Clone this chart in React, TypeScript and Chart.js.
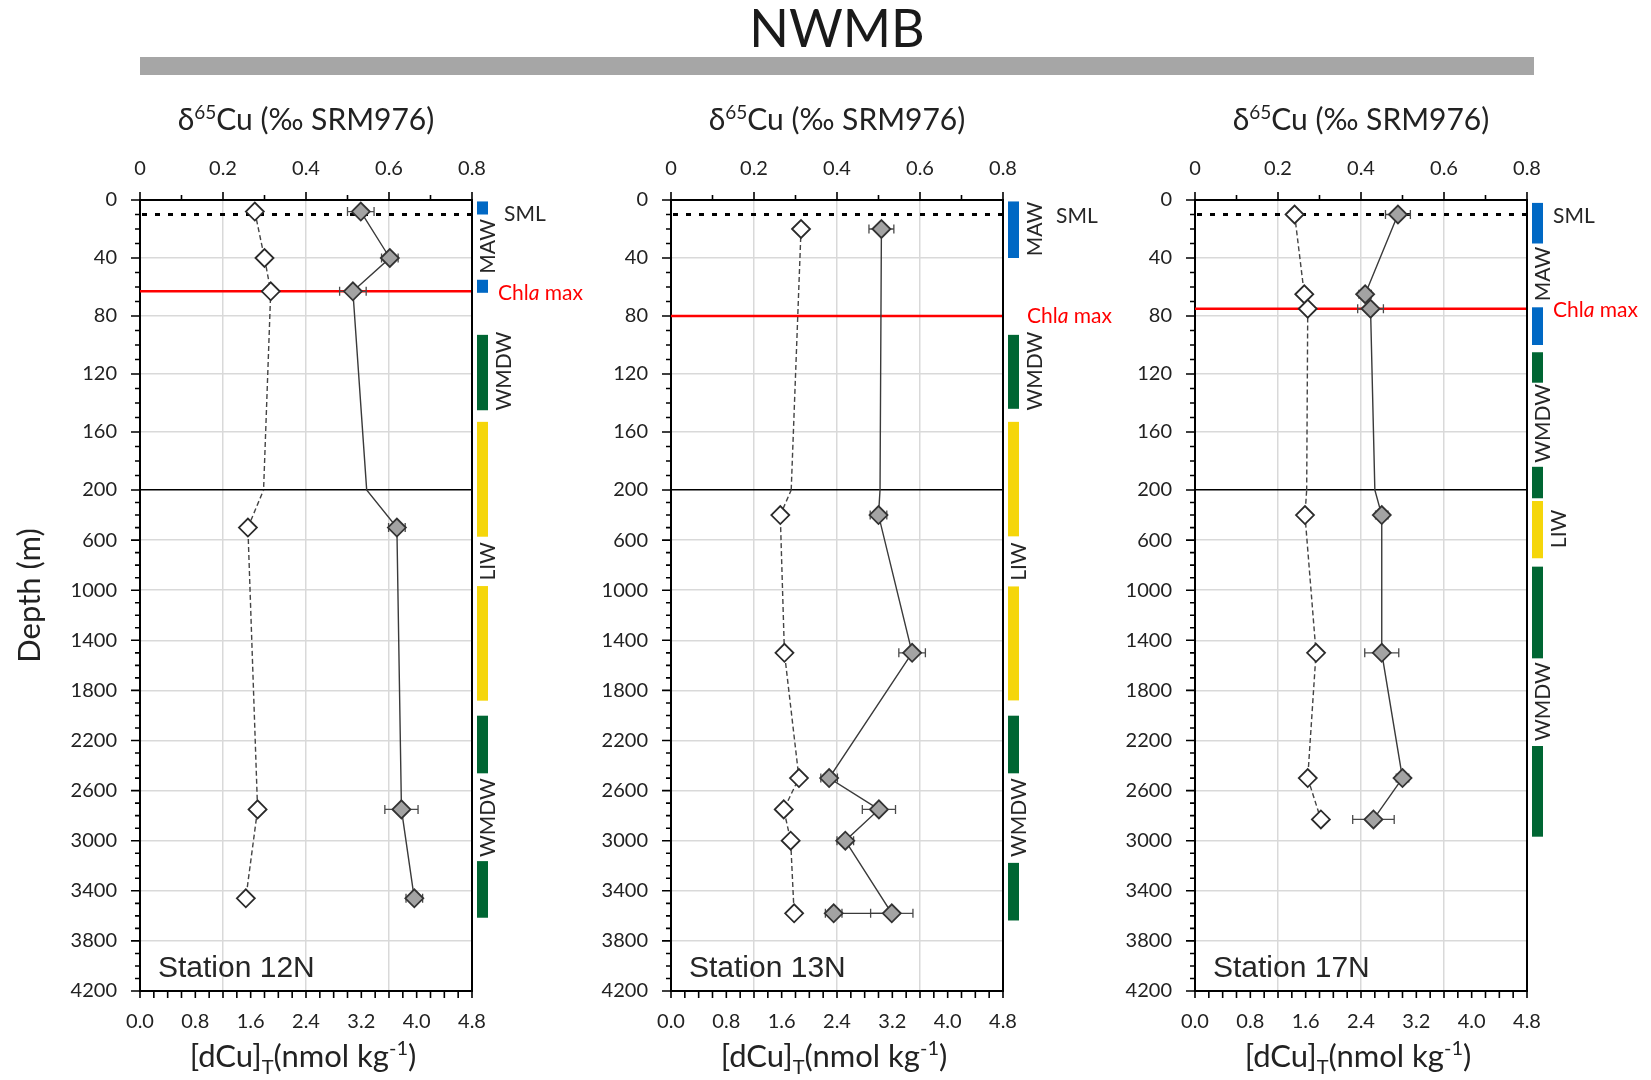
import React, { useEffect, useRef } from 'react';
import { Chart, registerables } from 'chart.js';

Chart.register(...registerables);
Chart.defaults.font.family = 'Lato';
Chart.defaults.color = '#222222';

// ---------------- Data ----------------
// Station 12N
const ST12_DEPTH = [8, 40, 63, 500, 2750, 3460];
const ST12_D65CU = [0.532, 0.602, 0.513, 0.619, 0.63, 0.661];
const ST12_D65CU_ERR = [0.032, 0.02, 0.032, 0.02, 0.04, 0.02];
const ST12_DCU = [1.66, 1.8, 1.89, 1.56, 1.7, 1.53];
const ST12_CHLA = 63;

// Station 13N
const ST13_D65_DEPTH = [20, 400, 1500, 2500, 2750, 3000, 3580, 3580];
const ST13_D65CU = [0.507, 0.5, 0.581, 0.381, 0.501, 0.42, 0.532, 0.392];
const ST13_D65CU_ERR = [0.03, 0.02, 0.032, 0.02, 0.04, 0.02, 0.051, 0.02];
const ST13_DCU_DEPTH = [20, 400, 1500, 2500, 2750, 3000, 3580];
const ST13_DCU = [1.88, 1.58, 1.64, 1.85, 1.63, 1.73, 1.78];
const ST13_CHLA = 80;

// Station 17N
const ST17_DEPTH = [10, 65, 75, 400, 1500, 2500, 2830];
const ST17_D65CU = [0.489, 0.41, 0.423, 0.45, 0.45, 0.5, 0.43];
const ST17_D65CU_ERR = [0.03, 0.015, 0.031, 0.015, 0.041, 0.015, 0.05];
const ST17_DCU = [1.44, 1.58, 1.63, 1.59, 1.75, 1.63, 1.82];
const ST17_CHLA = 75;

// Surface mixed layer depth (dotted line)
const SML_DEPTH = 10;

// Water-mass bars [from depth, to depth, water mass]
const WM_12N = [
  [1, 10, 'MAW'], [55, 64, 'MAW'], [93, 145, 'WMDW'], [153, 573, 'LIW'],
  [967, 1882, 'LIW'], [2002, 2462, 'WMDW'], [3163, 3615, 'WMDW'],
];
const WM_13N = [
  [1, 40, 'MAW'], [93, 144, 'WMDW'], [153, 570, 'LIW'], [970, 1880, 'LIW'],
  [2002, 2462, 'WMDW'], [3177, 3637, 'WMDW'],
];
const WM_17N = [
  [2, 30, 'MAW'], [74, 100, 'MAW'], [105, 126, 'WMDW'], [184, 266, 'WMDW'],
  [288, 745, 'LIW'], [812, 1544, 'WMDW'], [2244, 2968, 'WMDW'],
];
// Water-mass labels [text, centre depth, column]
const WM_LABELS_12N = [['MAW', 32, 'in'], ['WMDW', 118, 'out'], ['LIW', 770, 'in'], ['WMDW', 2815, 'in']];
const WM_LABELS_13N = [['MAW', 20, 'out'], ['WMDW', 118, 'out'], ['LIW', 772, 'in'], ['WMDW', 2815, 'in']];
const WM_LABELS_17N = [['MAW', 51, 'in'], ['WMDW', 154, 'in'], ['LIW', 511, 'out'], ['WMDW', 1890, 'in']];

// Tick values
const D65_TICKS = [0, 0.2, 0.4, 0.6, 0.8];
const DCU_TICKS = [0, 0.8, 1.6, 2.4, 3.2, 4.0, 4.8];
const DEPTH_TICKS_UPPER = [0, 40, 80, 120, 160, 200];
const DEPTH_TICKS_LOWER = [200, 600, 1000, 1400, 1800, 2200, 2600, 3000, 3400, 3800, 4200];

// ---------------- Layout / style ----------------
const WM_COLORS: Record<string, string> = { MAW: '#0068c4', WMDW: '#006633', LIW: '#f5d60a' };
const CANVAS_TOP = 85;
const LEFT_W = 140;
const PLOT_W = 332;
const RIGHT_W = 118;
const TOP_H = 115;
const BOT_H = 89;
const TOP_PX = 290;
const BOT_PX = 501;
const CANVAS_W = LEFT_W + PLOT_W + RIGHT_W;
const CANVAS_H = TOP_H + TOP_PX + BOT_PX + BOT_H;
const GRID = '#d9d9d9';
const TEXT = '#222222';

const PANELS = [
  {
    name: '12N', plotLeft: 140, showDepthTitle: true,
    d65Depth: ST12_DEPTH, d65: ST12_D65CU, d65Err: ST12_D65CU_ERR,
    dcuDepth: ST12_DEPTH, dcu: ST12_DCU, chla: ST12_CHLA, chlaLabelDepth: 64,
    wm: WM_12N, wmLabels: WM_LABELS_12N, smlX: 32, smlDepth: 10, chlaX: 26,
  },
  {
    name: '13N', plotLeft: 671, showDepthTitle: false,
    d65Depth: ST13_D65_DEPTH, d65: ST13_D65CU, d65Err: ST13_D65CU_ERR,
    dcuDepth: ST13_DCU_DEPTH, dcu: ST13_DCU, chla: ST13_CHLA, chlaLabelDepth: 80,
    wm: WM_13N, wmLabels: WM_LABELS_13N, smlX: 53, smlDepth: 11, chlaX: 24,
  },
  {
    name: '17N', plotLeft: 1195, showDepthTitle: false,
    d65Depth: ST17_DEPTH, d65: ST17_D65CU, d65Err: ST17_D65CU_ERR,
    dcuDepth: ST17_DEPTH, dcu: ST17_DCU, chla: ST17_CHLA, chlaLabelDepth: 76,
    wm: WM_17N, wmLabels: WM_LABELS_17N, smlX: 26, smlDepth: 11, chlaX: 26,
  },
];

type Part = { t: string; size: number; dy?: number; italic?: boolean };

function drawRich(ctx: CanvasRenderingContext2D, parts: Part[], x: number, y: number, align: string, color: string) {
  const f = (p: Part) => `${p.italic ? 'italic ' : ''}${p.size}px Lato`;
  let total = 0;
  const widths = parts.map((p) => {
    ctx.font = f(p);
    const w = ctx.measureText(p.t).width;
    total += w;
    return w;
  });
  let cx = align === 'center' ? x - total / 2 : x;
  ctx.fillStyle = color;
  ctx.textAlign = 'left';
  parts.forEach((p, i) => {
    ctx.font = f(p);
    ctx.fillText(p.t, cx, y + (p.dy || 0));
    cx += widths[i];
  });
}

function dpx(chart: any, d: number) {
  return d <= 200 ? chart.scales.yTop.getPixelForValue(d) : chart.scales.yBot.getPixelForValue(d);
}

function makePlugin(p: any) {
  return {
    id: 'decor' + p.name,
    beforeDatasetsDraw(chart: any) {
      const ctx = chart.ctx as CanvasRenderingContext2D;
      const a = chart.chartArea;
      const xTop = chart.scales.xTop;
      ctx.save();
      // SML dotted line
      const ys = dpx(chart, SML_DEPTH);
      ctx.strokeStyle = '#000';
      ctx.lineWidth = 3;
      ctx.setLineDash([5, 8]);
      ctx.beginPath();
      ctx.moveTo(a.left + 2, ys);
      ctx.lineTo(a.right, ys);
      ctx.stroke();
      ctx.setLineDash([]);
      // Chl a max line
      const yc = dpx(chart, p.chla);
      ctx.strokeStyle = '#ff0000';
      ctx.lineWidth = 2.5;
      ctx.beginPath();
      ctx.moveTo(a.left, yc);
      ctx.lineTo(a.right, yc);
      ctx.stroke();
      // error bars
      ctx.strokeStyle = '#4a4a4a';
      ctx.lineWidth = 1.3;
      p.d65.forEach((v: number, i: number) => {
        const e = p.d65Err[i];
        if (!e) return;
        const y = dpx(chart, p.d65Depth[i]);
        const x1 = xTop.getPixelForValue(v - e);
        const x2 = xTop.getPixelForValue(v + e);
        ctx.beginPath();
        ctx.moveTo(x1, y); ctx.lineTo(x2, y);
        ctx.moveTo(x1, y - 4.5); ctx.lineTo(x1, y + 4.5);
        ctx.moveTo(x2, y - 4.5); ctx.lineTo(x2, y + 4.5);
        ctx.stroke();
      });
      ctx.restore();
    },
    afterDraw(chart: any) {
      const ctx = chart.ctx as CanvasRenderingContext2D;
      const a = chart.chartArea;
      const { xTop, xBot, yTop, yBot } = chart.scales;
      ctx.save();
      // right frame
      ctx.strokeStyle = '#000';
      ctx.lineWidth = 2;
      ctx.beginPath();
      ctx.moveTo(a.right, a.top - 1);
      ctx.lineTo(a.right, a.bottom + 1);
      ctx.stroke();
      // tick marks
      ctx.lineWidth = 1.6;
      ctx.beginPath();
      for (let d = 0; d <= 200; d += 10) {
        const y = yTop.getPixelForValue(d);
        const len = d % 40 === 0 ? 9 : 5;
        ctx.moveTo(a.left - len, y); ctx.lineTo(a.left, y);
      }
      for (let d = 300; d <= 4200; d += 100) {
        const y = yBot.getPixelForValue(d);
        const len = (d - 200) % 400 === 0 ? 9 : 5;
        ctx.moveTo(a.left - len, y); ctx.lineTo(a.left, y);
      }
      for (let k = 0; k <= 8; k++) {
        const x = xTop.getPixelForValue(k / 10);
        const len = k % 2 === 0 ? 8 : 5;
        ctx.moveTo(x, a.top - len); ctx.lineTo(x, a.top);
      }
      for (let k = 0; k <= 24; k++) {
        const x = xBot.getPixelForValue(k * 0.2);
        ctx.moveTo(x, a.bottom); ctx.lineTo(x, a.bottom + 7);
      }
      ctx.stroke();
      // water mass bars
      p.wm.forEach((w: any) => {
        const y1 = dpx(chart, w[0]);
        const y2 = dpx(chart, w[1]);
        ctx.fillStyle = WM_COLORS[w[2]];
        ctx.fillRect(a.right + 5, y1, 11, y2 - y1);
      });
      // water mass labels (rotated)
      ctx.fillStyle = '#262626';
      ctx.font = '21px Lato';
      ctx.textAlign = 'center';
      ctx.textBaseline = 'middle';
      p.wmLabels.forEach((l: any) => {
        const x = a.right + (l[2] === 'in' ? 16 : 32);
        const y = dpx(chart, l[1]);
        ctx.save();
        ctx.translate(x, y);
        ctx.rotate(-Math.PI / 2);
        ctx.fillText(l[0], 0, 0);
        ctx.restore();
      });
      // SML label
      ctx.textAlign = 'left';
      ctx.textBaseline = 'middle';
      ctx.font = '21px Lato';
      ctx.fillStyle = '#262626';
      ctx.fillText('SML', a.right + p.smlX, dpx(chart, p.smlDepth));
      // Chl a max label
      drawRich(ctx, [
        { t: 'Chl', size: 21 }, { t: 'a', size: 21, italic: true }, { t: ' max', size: 21 },
      ], a.right + p.chlaX, dpx(chart, p.chlaLabelDepth), 'left', '#ff0000');
      // axis titles
      ctx.textBaseline = 'alphabetic';
      const cx = (a.left + a.right) / 2;
      drawRich(ctx, [
        { t: 'δ', size: 30 }, { t: '65', size: 19, dy: -11 }, { t: 'Cu (‰ SRM976)', size: 30 },
      ], cx, a.top - 70, 'center', TEXT);
      drawRich(ctx, [
        { t: '[dCu]', size: 31 }, { t: 'T', size: 20, dy: 7 }, { t: '(nmol kg', size: 31 },
        { t: '-1', size: 20, dy: -12 }, { t: ')', size: 31 },
      ], cx - 3, a.bottom + 76, 'center', TEXT);
      if (p.showDepthTitle) {
        ctx.save();
        ctx.translate(a.left - 110, (a.top + a.bottom) / 2);
        ctx.rotate(-Math.PI / 2);
        ctx.font = '31px Lato';
        ctx.textAlign = 'center';
        ctx.textBaseline = 'middle';
        ctx.fillStyle = TEXT;
        ctx.fillText('Depth (m)', 0, 0);
        ctx.restore();
      }
      // station label
      ctx.font = '30px "Liberation Sans"';
      ctx.textAlign = 'left';
      ctx.textBaseline = 'alphabetic';
      ctx.fillStyle = '#262626';
      ctx.fillText('Station ' + p.name, a.left + 18, a.bottom - 14);
      ctx.restore();
    },
  };
}

function buildConfig(p: any) {
  const gray = p.d65.map((v: number, i: number) => ({ x: v, y: p.d65Depth[i] }));
  const white = p.dcu.map((v: number, i: number) => ({ x: v, y: p.dcuDepth[i] }));
  // datasets are clipped to the area of their own (stacked) depth scale
  const clipTop = { left: 15, right: 15, top: 15, bottom: 0 };
  const clipBot = { left: 15, right: 15, top: 0, bottom: 15 };
  const grayStyle = {
    showLine: true, borderColor: '#3a3a3a', borderWidth: 1.4,
    pointStyle: 'rectRot', pointRadius: 9, pointBackgroundColor: '#a3a3a3',
    pointBorderColor: '#333333', pointBorderWidth: 1.8, xAxisID: 'xTop',
  };
  const whiteStyle = {
    showLine: true, borderColor: '#444444', borderWidth: 1.4, borderDash: [5, 3],
    pointStyle: 'rectRot', pointRadius: 9, pointBackgroundColor: '#ffffff',
    pointBorderColor: '#2a2a2a', pointBorderWidth: 1.8, xAxisID: 'xBot',
  };
  const yCommon = (min: number, max: number, weight: number, stackWeight: number, ticks: number[], hideFirst: boolean) => ({
    type: 'linear', position: 'left', min, max, reverse: true, stack: 'depth', stackWeight, weight,
    afterBuildTicks: (s: any) => { s.ticks = ticks.map((v) => ({ value: v })); },
    afterFit: (s: any) => { s.width = LEFT_W; s.paddingTop = 0; s.paddingBottom = 0; },
    ticks: {
      padding: 23, autoSkip: false, font: { size: 20 }, color: TEXT,
      callback: (v: number) => (hideFirst && v === min ? '' : String(v)),
    },
    grid: {
      drawTicks: false, lineWidth: 1.5,
      color: (c: any) => {
        const v = c.tick ? c.tick.value : -1;
        if (v === 200 && !hideFirst) return '#000000';
        if (v === min || v === max) return 'rgba(0,0,0,0)';
        return GRID;
      },
    },
    border: { display: true, color: '#000', width: 2 },
  });
  return {
    type: 'scatter',
    data: {
      datasets: [
        { ...whiteStyle, data: white, yAxisID: 'yTop', clip: clipTop },
        { ...whiteStyle, data: white, yAxisID: 'yBot', clip: clipBot },
        { ...grayStyle, data: gray, yAxisID: 'yTop', clip: clipTop },
        { ...grayStyle, data: gray, yAxisID: 'yBot', clip: clipBot },
      ],
    },
    options: {
      animation: false, responsive: false, maintainAspectRatio: false, events: [],
      layout: { padding: { left: 0, right: RIGHT_W, top: 0, bottom: 0 } },
      plugins: { legend: { display: false }, tooltip: { enabled: false } },
      scales: {
        xTop: {
          type: 'linear', position: 'top', min: 0, max: 0.8,
          afterBuildTicks: (s: any) => { s.ticks = D65_TICKS.map((v) => ({ value: v })); },
          afterFit: (s: any) => { s.height = TOP_H; s.paddingLeft = 0; s.paddingRight = 0; },
          ticks: {
            padding: 19, maxRotation: 0, minRotation: 0, autoSkip: false, font: { size: 20 }, color: TEXT,
            callback: (v: number) => (v === 0 ? '0' : Number(v).toFixed(1)),
          },
          grid: {
            drawTicks: false, lineWidth: 1.5,
            color: (c: any) => (c.tick && c.tick.value > 0.01 && c.tick.value < 0.79 ? GRID : 'rgba(0,0,0,0)'),
          },
          border: { display: true, color: '#000', width: 2 },
        },
        xBot: {
          type: 'linear', position: 'bottom', min: 0, max: 4.8,
          afterBuildTicks: (s: any) => { s.ticks = DCU_TICKS.map((v) => ({ value: v })); },
          afterFit: (s: any) => { s.height = BOT_H; s.paddingLeft = 0; s.paddingRight = 0; },
          ticks: {
            padding: 19, maxRotation: 0, minRotation: 0, autoSkip: false, font: { size: 20 }, color: TEXT,
            callback: (v: number) => Number(v).toFixed(1),
          },
          grid: { drawTicks: false, drawOnChartArea: false },
          border: { display: true, color: '#000', width: 2 },
        },
        yBot: yCommon(200, 4200, 0, BOT_PX, DEPTH_TICKS_LOWER, true),
        yTop: yCommon(0, 200, 1, TOP_PX, DEPTH_TICKS_UPPER, false),
      },
    },
    plugins: [makePlugin(p)],
  };
}

function Panel({ p }: { p: any }) {
  const ref = useRef<HTMLCanvasElement | null>(null);
  useEffect(() => {
    const chart = new Chart(ref.current as HTMLCanvasElement, buildConfig(p) as any);
    return () => chart.destroy();
  }, [p]);
  return (
    <canvas
      ref={ref}
      width={CANVAS_W}
      height={CANVAS_H}
      style={{ position: 'absolute', left: p.plotLeft - LEFT_W, top: CANVAS_TOP, width: CANVAS_W, height: CANVAS_H }}
    />
  );
}

export default function App() {
  return (
    <div style={{ position: 'absolute', left: 0, top: 0, width: 1651, height: 1080, overflow: 'hidden', background: '#ffffff' }}>
      <div
        style={{
          position: 'absolute', left: 637, width: 400, top: 1, textAlign: 'center',
          fontFamily: 'Lato', fontSize: 52, lineHeight: '52px', color: '#1a1a1a',
        }}
      >
        NWMB
      </div>
      <div style={{ position: 'absolute', left: 140, top: 57, width: 1394, height: 18, background: '#a6a6a6' }} />
      {PANELS.map((p) => (
        <Panel key={p.name} p={p} />
      ))}
    </div>
  );
}
